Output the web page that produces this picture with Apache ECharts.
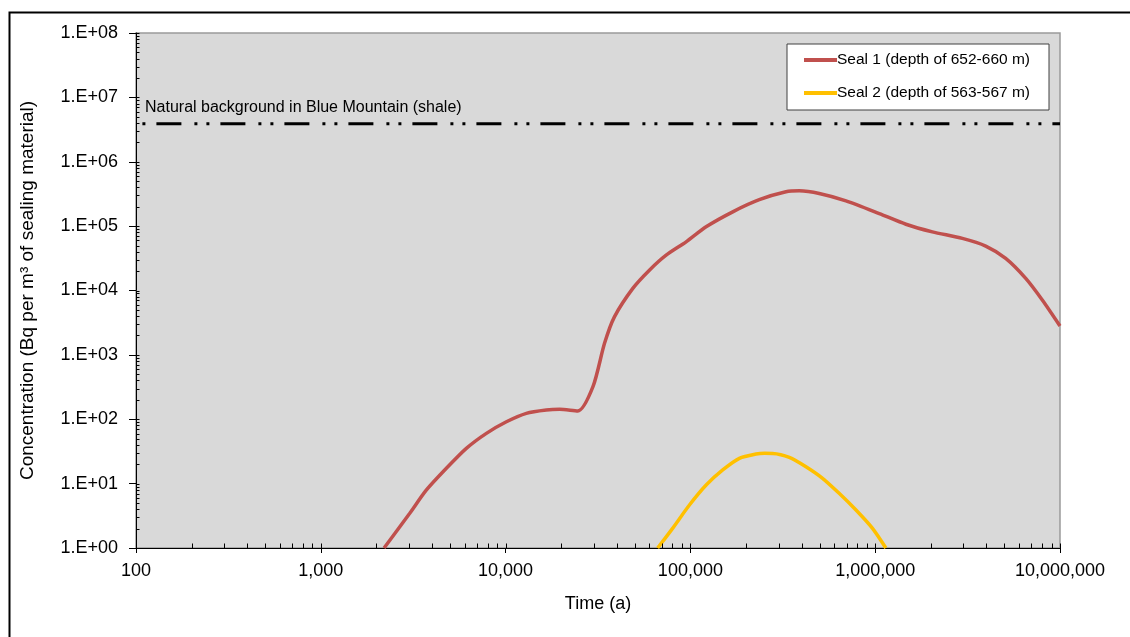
<!DOCTYPE html>
<html>
<head>
<meta charset="utf-8">
<script src="https://cdn.jsdelivr.net/npm/echarts@6/dist/echarts.min.js"></script>
<style>
  html, body { margin: 0; padding: 0; background: #fff; }
  #chart { width: 1130px; height: 637px; }
</style>
</head>
<body>
<div id="chart"></div>
<script>
// Seal 1 (depth of 652-660 m): time (a) and concentration (Bq/m3)
const seal1Time = [2200, 3030, 3720, 4780, 6130, 7870, 10100, 12950, 16600, 19600, 24600,
  29700, 34300, 38800, 48800, 60000, 73900, 94800, 121600, 169500, 236000, 329000,
  388000, 498000, 695000, 1052000, 1466000, 2039000, 2963000, 3963000, 5082000,
  6525000, 8020000, 10000000];
const seal1Conc = [1.0, 3.46, 7.9, 17.3, 35.3, 60.4, 91.5, 123.6, 139, 142.5, 134,
  320, 1510, 3900, 10800, 20700, 35400, 57000, 97600, 166800, 257000, 341000,
  353000, 322000, 247000, 157000, 107000, 81500, 64400, 48900, 31500,
  15400, 7100, 2800];

// Seal 2 (depth of 563-567 m)
const seal2Time = [66500, 80100, 98800, 121700, 149600, 184100, 226500, 252000, 278800, 343000,
  422000, 519000, 638000, 787000, 967000, 1142000];
const seal2Conc = [1.0, 2.02, 4.65, 9.5, 16.3, 24.7, 28.8, 29.6, 29.5, 25.6, 18.3, 12.1,
  7.07, 3.89, 2.02, 1.0];

// Natural background level in Blue Mountain shale
const backgroundLevel = 3.9e6;
const backgroundLabel = 'Natural background in Blue Mountain (shale)';

const seriesNames = ['Seal 1 (depth of 652-660 m)', 'Seal 2 (depth of 563-567 m)'];
const xTicks = [100, 1000, 10000, 100000, 1000000, 10000000];
const yTicks = [1, 10, 100, 1000, 1e4, 1e5, 1e6, 1e7, 1e8];

// minor tick positions (2..9 within each decade)
function minorValues(ticks) {
  const out = [];
  for (let i = 0; i < ticks.length - 1; i++) {
    for (let m = 2; m <= 9; m++) out.push(ticks[i] * m);
  }
  return out;
}
const xInnerTicks = minorValues(xTicks).concat(xTicks);
const yInnerTicks = minorValues(yTicks).concat(yTicks);

const pairs = (xs, ys) => xs.map((x, i) => [x, ys[i]]);
const FONT = 'Liberation Sans, Arial, sans-serif';

const chart = echarts.init(document.getElementById('chart'), null, { renderer: 'canvas' });

chart.setOption({
  animation: false,
  backgroundColor: '#ffffff',
  textStyle: { fontFamily: FONT },
  graphic: [{
    type: 'rect',
    left: 7, top: 10,
    shape: { width: 1200, height: 700 },
    style: { fill: 'none', stroke: '#000', lineWidth: 2 },
    silent: true
  }],
  grid: {
    left: 136, right: 70, top: 33, bottom: 89,
    show: true,
    backgroundColor: '#d9d9d9',
    borderColor: '#9a9a9a',
    borderWidth: 1.5
  },
  legend: {
    orient: 'vertical',
    left: 787, top: 44,
    data: seriesNames,
    icon: 'rect',
    backgroundColor: '#ffffff',
    borderColor: '#404040',
    borderWidth: 1,
    padding: [8, 19, 9, 17],
    itemWidth: 33, itemHeight: 4, itemGap: 17,
    textStyle: { fontFamily: FONT, fontSize: 15.5, lineHeight: 16, color: '#000', padding: [0, 0, 0, -5] }
  },
  xAxis: {
    type: 'log',
    logBase: 10,
    min: 100, max: 10000000,
    name: 'Time (a)',
    nameLocation: 'middle',
    nameGap: 47,
    nameTextStyle: { fontFamily: FONT, fontSize: 18, color: '#000' },
    axisLine: { lineStyle: { color: '#000', width: 1 } },
    axisTick: { show: true, inside: false, length: 5, lineStyle: { color: '#000' } },
    axisLabel: {
      margin: 14, fontFamily: FONT, fontSize: 18, color: '#000',
      formatter: v => Math.round(v).toLocaleString('en-US')
    },
    splitLine: { show: false }
  },
  yAxis: {
    type: 'log',
    logBase: 10,
    min: 1, max: 1e8,
    name: 'Concentration (Bq per m³ of sealing material)',
    nameLocation: 'middle',
    nameGap: 99,
    nameTextStyle: { fontFamily: FONT, fontSize: 19, color: '#000' },
    axisLine: { lineStyle: { color: '#000', width: 1 } },
    axisTick: { show: true, inside: false, length: 7, lineStyle: { color: '#000' } },
    axisLabel: {
      margin: 18, fontFamily: FONT, fontSize: 18, color: '#000',
      formatter: v => {
        const e = Math.round(Math.log10(v));
        return '1.E+' + (e < 10 ? '0' + e : e);
      }
    },
    splitLine: { show: false }
  },
  series: [
    {
      name: 'background',
      type: 'line',
      data: [
        { value: [100, backgroundLevel], label: {
            show: true, position: 'top', align: 'left', offset: [9, -3],
            formatter: backgroundLabel, fontFamily: FONT, fontSize: 16, color: '#000'
        } },
        [10000000, backgroundLevel]
      ],
      symbol: 'circle', symbolSize: 0.01, showSymbol: true,
      lineStyle: { color: '#000', width: 3, type: [25, 13, 3, 9, 3, 11], dashOffset: 43.6, cap: 'butt' },
      silent: true, z: 3
    },
    {
      name: seriesNames[0],
      type: 'line',
      data: pairs(seal1Time, seal1Conc),
      showSymbol: false, symbol: 'none',
      smooth: 0.25,
      clip: true,
      color: '#c0504d',
      lineStyle: { color: '#c0504d', width: 3.5 },
      z: 4
    },
    {
      name: seriesNames[1],
      type: 'line',
      data: pairs(seal2Time, seal2Conc),
      showSymbol: false, symbol: 'none',
      smooth: 0.25,
      clip: true,
      color: '#ffc000',
      lineStyle: { color: '#ffc000', width: 3.5 },
      z: 4
    },
    {
      // inner tick marks along the time axis
      type: 'custom',
      silent: true,
      z: 5,
      clip: false,
      data: xInnerTicks.map(v => [v, 1]),
      renderItem: (params, api) => {
        const p = api.coord([api.value(0), api.value(1)]);
        const bottom = params.coordSys.y + params.coordSys.height;
        return {
          type: 'line',
          shape: { x1: Math.round(p[0]) + 0.5, y1: bottom, x2: Math.round(p[0]) + 0.5, y2: bottom - 4.5 },
          style: { stroke: '#000', lineWidth: 1 }
        };
      }
    },
    {
      // inner tick marks along the concentration axis
      type: 'custom',
      silent: true,
      z: 5,
      clip: false,
      data: yInnerTicks.map(v => [100, v]),
      renderItem: (params, api) => {
        const p = api.coord([api.value(0), api.value(1)]);
        const left = params.coordSys.x;
        return {
          type: 'line',
          shape: { x1: left, y1: Math.round(p[1]) + 0.5, x2: left + 3.5, y2: Math.round(p[1]) + 0.5 },
          style: { stroke: '#000', lineWidth: 1 }
        };
      }
    }
  ]
});
</script>
</body>
</html>
